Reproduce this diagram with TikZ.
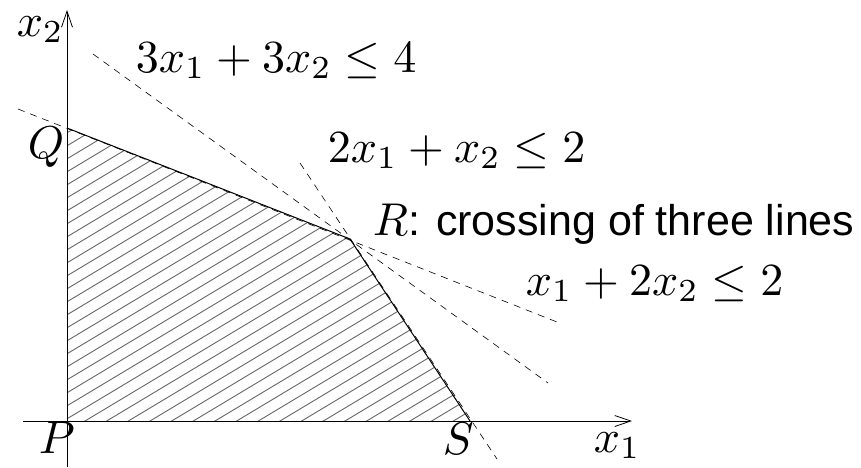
\documentclass[tikz,border=0pt]{standalone}
\usepackage[no-math]{fontspec}
\newfontfamily\helv[Scale=0.935]{Liberation Sans}
\usetikzlibrary{arrows.meta}
\tikzset{
  lab/.style={anchor=base west, inner sep=0pt, scale=4.6},
  axis/.style={line width=1pt, -{Straight Barb[length=16pt,width=11pt,line width=0.8pt]}},
  edge/.style={line width=1pt},
  guide/.style={line width=0.6pt, dash pattern=on 7pt off 6pt},
  hatch/.style={line width=0.9pt, black!60}
}
\begin{document}
\begin{tikzpicture}[x=1pt,y=-1pt]
\useasboundingbox (0,0) rectangle (861,467);
% corner points
\coordinate (P) at (67,421);
\coordinate (Q) at (67,128);
\coordinate (R) at (350,239);
\coordinate (S) at (470,421);
% hatching
\begin{scope}
\clip (P) -- (Q) -- (R) -- (S) -- cycle;
\foreach \c in {108,121,...,810} {
  \draw[hatch] (0,\c) -- (861,\c-516.6);
}
\end{scope}
% guide lines
\coordinate (a1) at (18,109);  \coordinate (a2) at (557,322);
\coordinate (b1) at (300,163); \coordinate (b2) at (497,459);
\coordinate (c1) at (93,54);   \coordinate (c2) at (548,383);
\draw[guide] (a1) -- (a2);
\draw[guide] (b1) -- (b2);
\draw[guide] (c1) -- (c2);
% boundary
\draw[edge] (Q) -- (R) -- (S);
% axes
\coordinate (xs) at (23,421);  \coordinate (xe) at (632,421);
\coordinate (ys) at (67,467);  \coordinate (ye) at (67,10);
\draw[axis] (xs) -- (xe);
\draw[axis] (ys) -- (ye);
% labels
\node[lab] (lx2) at (16,36) {$x_2$};
\node[lab] (lc) at (135,72) {$3x_1+3x_2\le 4$};
\node[lab] (lQ) at (27,158) {$Q$};
\node[lab] (lb) at (327,162) {$2x_1+x_2\le 2$};
\node[lab] (lR) at (372,235) {$R${\helv: crossing of three lines}};
\node[lab] (la) at (525,295) {$x_1+2x_2\le 2$};
\node[lab] (lP) at (38,453) {$P$};
\node[lab] (lS) at (442,454) {$S$};
\node[lab] (lx1) at (593,452) {$x_1$};
\end{tikzpicture}
\end{document}
